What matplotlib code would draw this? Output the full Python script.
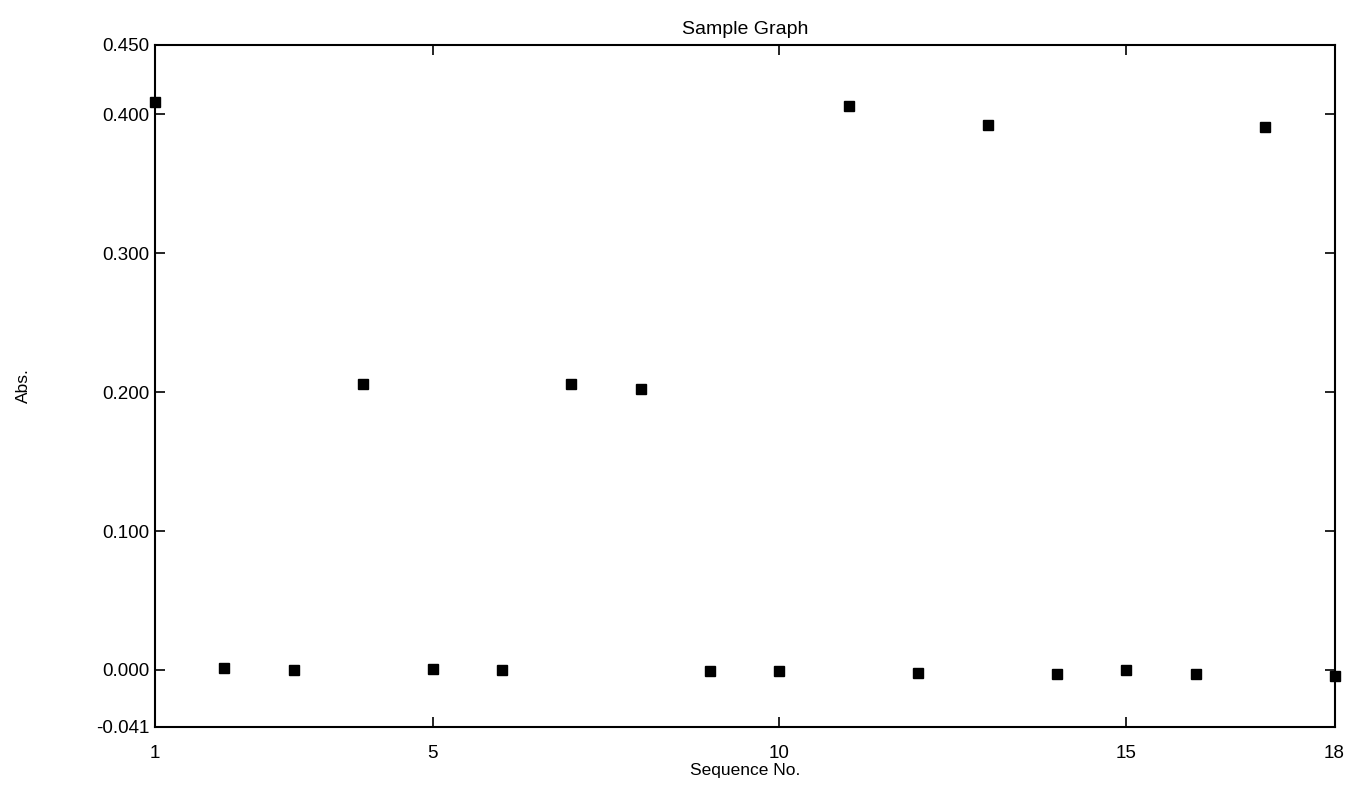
import matplotlib.pyplot as plt
from matplotlib.ticker import FormatStrFormatter

plt.rcParams['font.family'] = ['Liberation Sans', 'DejaVu Sans']

seq = [1, 2, 3, 4, 5, 6, 7, 8, 9, 10, 11, 12, 13, 14, 15, 16, 17, 18]
absorb = [0.409, 0.0015, 0.0, 0.206, 0.001, 0.0, 0.206, 0.202, -0.001, -0.001,
          0.406, -0.002, 0.392, -0.003, 0.0, -0.003, 0.391, -0.004]

x_ticks = [1, 5, 10, 15, 18]
y_ticks = [-0.041, 0.0, 0.1, 0.2, 0.3, 0.4, 0.45]

fig = plt.figure(figsize=(13.48, 7.85), dpi=100)
ax = fig.add_axes([0.115, 0.074, 0.875, 0.869])

ax.plot(seq, absorb, 's', color='black', markersize=7.5, clip_on=False, zorder=3)

ax.set_xlim(1, 18)
ax.set_ylim(-0.041, 0.45)
ax.set_xticks(x_ticks)
ax.set_yticks(y_ticks)
ax.yaxis.set_major_formatter(FormatStrFormatter('%.3f'))
ax.tick_params(direction='in', length=7, width=1.2, labelsize=13.5,
               top=True, right=True)
ax.tick_params(axis='x', pad=13)
ax.tick_params(axis='y', pad=4)
for s in ax.spines.values():
    s.set_linewidth(1.5)

ax.set_title('Sample Graph', fontsize=14, pad=8)
ax.set_xlabel('Sequence No.', fontsize=12.5, labelpad=1)
ax.set_ylabel('Abs.', fontsize=12.5, labelpad=47)

fig.savefig('out.png', dpi=100)
